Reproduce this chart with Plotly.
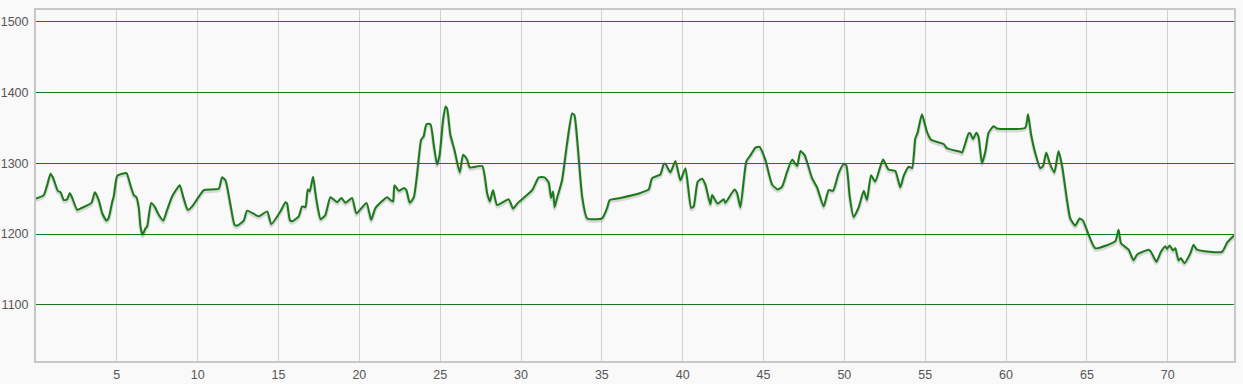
import plotly.graph_objects as go

x_vals = [0.0, 0.48, 0.69, 0.9, 1.06, 1.35, 1.52, 1.72, 1.93, 2.09, 2.24, 2.55, 2.75, 3.43, 3.64, 3.88,
          4.09, 4.36, 4.5, 4.71, 4.81, 5.02, 5.33, 5.6, 5.84, 6.05, 6.21, 6.36, 6.46, 6.59, 6.77, 6.88,
          7.12, 7.33, 7.6, 7.87, 8.11, 8.42, 8.89, 9.1, 9.39, 9.66, 10.38, 10.9, 11.31, 11.51, 11.72,
          12.03, 12.28, 12.44, 12.85, 13.06, 13.78, 14.3, 14.55, 15.12, 15.43, 15.53, 15.7, 15.84,
          16.25, 16.46, 16.67, 16.81, 16.93, 17.14, 17.28, 17.43, 17.6, 17.9, 18.21, 18.63, 18.89,
          19.14, 19.55, 19.82, 20.44, 20.73, 21.0, 21.72, 21.92, 22.09, 22.17, 22.44, 22.75, 22.91,
          23.12, 23.37, 23.58, 23.82, 23.98, 24.15, 24.4, 24.6, 24.81, 24.97, 25.18, 25.33, 25.43,
          25.63, 25.88, 26.21, 26.42, 26.67, 26.83, 27.6, 27.9, 28.07, 28.27, 28.52, 29.24, 29.51,
          29.76, 30.69, 31.1, 31.45, 31.71, 31.86, 31.98, 32.08, 32.23, 32.54, 32.85, 33.16, 33.3,
          33.5, 33.78, 34.09, 35.01, 35.33, 35.49, 36.15, 37.38, 37.9, 38.11, 38.62, 38.83, 38.93,
          39.24, 39.55, 39.86, 40.17, 40.52, 40.68, 40.93, 41.2, 41.4, 41.71, 41.82, 42.16, 42.54,
          42.64, 43.2, 43.36, 43.57, 43.94, 44.19, 44.5, 44.76, 45.11, 45.53, 45.87, 46.15, 46.46,
          46.77, 47.08, 47.28, 47.55, 48.0, 48.31, 48.72, 49.03, 49.3, 49.65, 49.96, 50.12, 50.33,
          50.57, 50.89, 51.2, 51.4, 51.65, 51.91, 52.39, 52.73, 53.15, 53.46, 53.67, 53.98, 54.19,
          54.39, 54.53, 54.8, 55.11, 55.36, 56.14, 56.35, 57.17, 57.28, 57.69, 57.79, 57.96, 58.16,
          58.3, 58.51, 58.72, 58.92, 59.23, 59.44, 61.19, 61.36, 61.55, 61.81, 62.12, 62.29, 62.49,
          62.7, 62.99, 63.25, 63.46, 63.77, 63.97, 64.28, 64.55, 64.76, 65.11, 65.52, 66.76, 66.96,
          67.11, 67.58, 67.89, 68.1, 68.82, 68.97, 69.3, 69.58, 69.85, 69.96, 70.12, 70.33, 70.47,
          70.67, 70.82, 71.03, 71.4, 71.6, 71.81, 73.36, 73.67, 74.1]

y_vals = [1250, 1255, 1269, 1285, 1279, 1261, 1259, 1248, 1249, 1258, 1251, 1234, 1236, 1244, 1259, 1248,
          1230, 1219, 1223, 1245, 1253, 1282, 1285, 1286, 1269, 1255, 1252, 1237, 1211, 1199, 1208, 1211,
          1244, 1239, 1227, 1219, 1234, 1253, 1269, 1253, 1234, 1239, 1262, 1263, 1264, 1280, 1276,
          1241, 1213, 1212, 1219, 1233, 1225, 1232, 1214, 1232, 1245, 1243, 1220, 1218,
          1225, 1239, 1238, 1263, 1260, 1281, 1258, 1237, 1221, 1227, 1252, 1245, 1251,
          1244, 1251, 1229, 1244, 1220, 1237, 1252, 1248, 1246, 1269, 1261, 1265, 1262,
          1244, 1252, 1286, 1333, 1338, 1355, 1355, 1326, 1298, 1312, 1361, 1380, 1377,
          1340, 1319, 1287, 1312, 1305, 1294, 1296, 1258, 1246, 1262, 1241, 1249, 1236,
          1243, 1262, 1280, 1280, 1273, 1251, 1260, 1238, 1251, 1276, 1328, 1370, 1368,
          1326, 1253, 1222, 1222, 1237, 1248, 1251, 1258, 1263, 1279, 1284, 1299, 1299,
          1287, 1303, 1276, 1293, 1237, 1239, 1274, 1278, 1270, 1242, 1255, 1243, 1249,
          1244, 1263, 1258, 1238, 1303, 1311, 1322, 1323, 1305, 1270, 1263, 1267, 1288,
          1305, 1296, 1317, 1311, 1279, 1266, 1239, 1262, 1261, 1286, 1299, 1297, 1253,
          1224, 1238, 1261, 1248, 1283, 1274, 1305, 1291, 1289, 1266, 1282, 1295, 1293,
          1335, 1343, 1369, 1344, 1333, 1327, 1321, 1316, 1315, 1342, 1342, 1334, 1343,
          1337, 1300, 1316, 1343, 1352, 1349, 1350, 1369, 1340, 1314, 1293, 1296, 1315,
          1300, 1287, 1317, 1297, 1248, 1222, 1212, 1222, 1219, 1199, 1180, 1190, 1206,
          1187, 1178, 1163, 1171, 1178, 1175, 1161, 1175, 1183, 1179, 1184, 1177, 1180,
          1163, 1166, 1159, 1173, 1185, 1178, 1175, 1188, 1198]

x_ticks = [5, 10, 15, 20, 25, 30, 35, 40, 45, 50, 55, 60, 65, 70]
y_ticks = [1100, 1200, 1300, 1400, 1500]

shadow_y = [v - 2.5 for v in y_vals]

fig = go.Figure()
fig.add_trace(go.Scatter(x=x_vals, y=shadow_y, mode="lines",
                         line=dict(color="rgba(0,0,0,0.13)", width=3.5, shape="spline", smoothing=0.5),
                         hoverinfo="skip", showlegend=False))
fig.add_trace(go.Scatter(x=x_vals, y=y_vals, mode="lines",
                         line=dict(color="#1a7a1a", width=2, shape="spline", smoothing=0.5),
                         showlegend=False))

fig.update_layout(
    width=1243, height=384,
    margin=dict(l=36, r=9, t=10, b=23),
    paper_bgcolor="#f9f9f9", plot_bgcolor="#f9f9f9",
    font=dict(family="Liberation Sans, Arial, sans-serif", size=12.5, color="#555"),
    xaxis=dict(range=[0, 74.1], tickvals=x_ticks, ticktext=[str(t) for t in x_ticks],
               showgrid=True, gridcolor="#d0d0d0", gridwidth=1, zeroline=False,
               showline=True, linecolor="#c8c8c8", linewidth=2, mirror=True,
               ticks="", ticklabelstandoff=1, automargin=False),
    yaxis=dict(range=[1021, 1516], tickvals=y_ticks, ticktext=[str(t) for t in y_ticks],
               showgrid=True, gridcolor="#1a7a1a", gridwidth=1, zeroline=False,
               showline=True, linecolor="#c8c8c8", linewidth=2, mirror=True,
               ticks="", ticklabelstandoff=3, automargin=False),
)

fig.write_html("out.html")
